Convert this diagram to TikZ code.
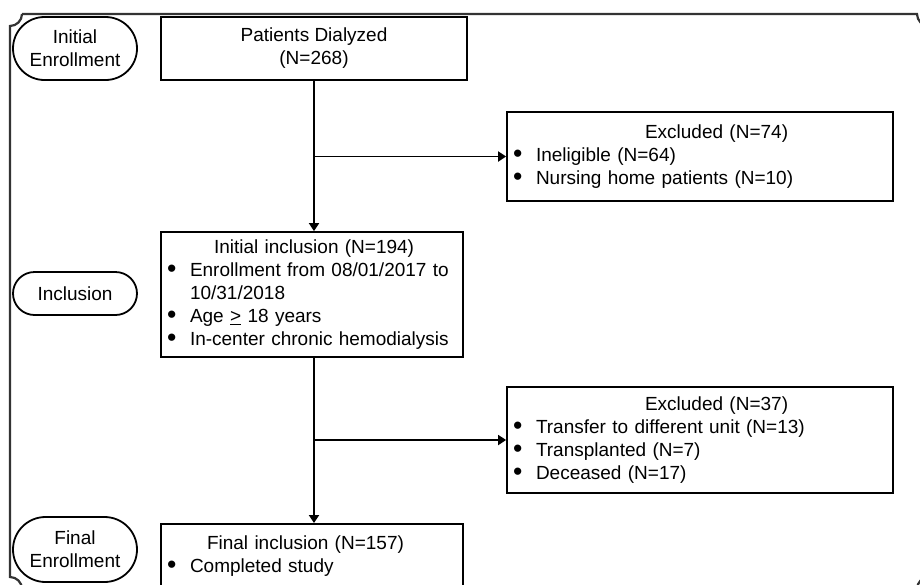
\documentclass[tikz,border=0pt]{standalone}
\usepackage{fontspec}
\setmainfont{Liberation Sans}
\usepackage{graphicx}
\usepackage{tikz}
\usetikzlibrary{arrows.meta,shapes.misc,positioning}
\newcommand{\lw}{1.8pt}
\newcommand{\bul}{\makebox[23pt][l]{\smash{\raisebox{-0.9pt}{\scalebox{1.4}{\textbullet}}}}}

\begin{document}
\begin{tikzpicture}[x=1pt,y=-1pt,font=\fontsize{19}{23}\selectfont]
        \begin{scope}
            %\draw[help lines] (0,0) grid (920,584);
            \useasboundingbox (0,0) rectangle (920,584);
            \tikzset{BoxStyle/.style = {draw, line width=\lw, inner xsep=6pt, inner ysep=0pt, align=left}}
            \tikzset{StageStyle/.style = {draw, rounded rectangle, line width=\lw, minimum width=124pt, inner sep=0pt, align=center}}
            \tikzset{ArrowStyle/.style = {line width=\lw, -{Triangle[length=8pt,width=10pt]}}}

            % outer frame
            \draw[line width=2.2pt, black!80] (22,14) -- (917,14)
                .. controls (917,20.6) and (922.4,26) .. (929,26) -- (929,577)
                .. controls (922.4,577) and (917,582.4) .. (917,589) -- (22,589)
                .. controls (22,582.4) and (16.6,577) .. (10,577) -- (10,26)
                .. controls (16.6,26) and (22,20.6) .. (22,14);

            % stages
            \node[StageStyle, minimum height=63pt] (init) at (75,48.5) {Initial\\Enrollment};
            \node[StageStyle, minimum height=43pt] (inclstage) at (75,293.5) {Inclusion};
            \node[StageStyle, minimum height=65pt] (finalstage) at (75,549.5) {Final\\Enrollment};

            % boxes
            \node[BoxStyle, align=center, minimum width=306pt, minimum height=63pt] (dial) at (314,48.5) {Patients Dialyzed\\(N=268)};
            \node[BoxStyle, text width=374pt, minimum height=89pt] (exA) at (700,156.5)
                {\hspace*{132pt}Excluded (N=74)\\
                 \bul Ineligible (N=64)\\
                 \bul Nursing home patients (N=10)};
            \node[BoxStyle, text width=290pt, minimum height=125pt] (incl) at (312,294.5)
                {\hspace*{47pt}Initial inclusion (N=194)\\
                 \bul Enrollment from 08/01/2017 to\\
                 \hspace*{23pt}10/31/2018\\
                 \bul Age \underline{>} 18 years\\
                 \bul In-center chronic hemodialysis};
            \node[BoxStyle, text width=374pt, minimum height=106pt] (exB) at (700,440)
                {\hspace*{132pt}Excluded (N=37)\\
                 \bul Transfer to different unit (N=13)\\
                 \bul Transplanted (N=7)\\
                 \bul Deceased (N=17)};
            \node[BoxStyle, text width=290pt, inner ysep=12pt, text depth=60pt, anchor=north] (final) at (312,523)
                {\hspace*{40pt}Final inclusion (N=157)\\
                 \bul Completed study};

            % connectors
            \draw[ArrowStyle] (dial.south) -- (dial.south |- incl.north);
            \draw[ArrowStyle] (dial.south |- exA.west) -- (exA.west);
            \draw[ArrowStyle] (dial.south |- incl.south) -- (dial.south |- final.north);
            \draw[ArrowStyle] (dial.south |- exB.west) -- (exB.west);
        \end{scope}
    \end{tikzpicture}
\end{document}
